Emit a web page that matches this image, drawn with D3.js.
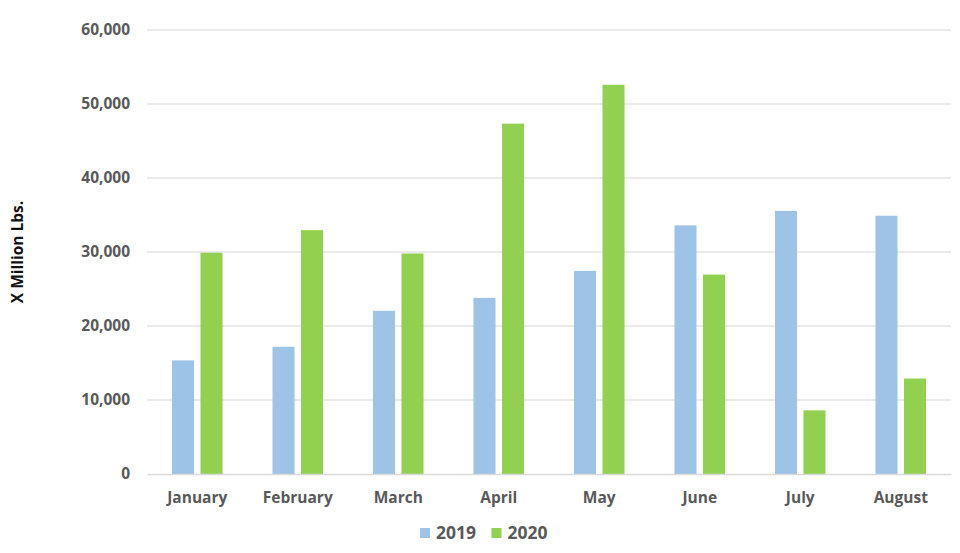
<!DOCTYPE html>
<html>
<head>
<meta charset="utf-8">
<script src="https://cdn.jsdelivr.net/npm/d3@7"></script>
<style>
  html, body { margin: 0; padding: 0; background: #fff; }
  svg { display: block; }
  text { font-family: "Open Sans", "DejaVu Sans", sans-serif; font-weight: 700; }
</style>
</head>
<body>
<svg id="chart" width="960" height="553"></svg>
<script>
const months = ["January", "February", "March", "April", "May", "June", "July", "August"];
const seriesNames = ["2019", "2020"];
const values2019 = [15350, 17200, 22050, 23800, 27450, 33600, 35550, 34900];
const values2020 = [29900, 32950, 29800, 47350, 52600, 26950, 8600, 12900];
const yTicks = [0, 10000, 20000, 30000, 40000, 50000, 60000];
const colors = ["#9dc3e6", "#92d050"];
const yTitle = "X Million Lbs.";

const svg = d3.select("#chart");
const margin = { left: 147, right: 9, top: 30, bottom: 79 };
const W = 960, H = 553;

const x0 = d3.scaleBand().domain(months).range([margin.left, W - margin.right]).padding(0);
const x1 = d3.scaleBand().domain(seriesNames).range([0, x0.bandwidth()])
  .paddingInner(0.228).paddingOuter(0.877);
const y = d3.scaleLinear().domain([0, 60000]).range([H - margin.bottom, margin.top]);

// gridlines
svg.append("g").selectAll("line").data(yTicks.filter(d => d > 0)).join("line")
  .attr("x1", margin.left).attr("x2", W - margin.right)
  .attr("y1", d => y(d)).attr("y2", d => y(d))
  .attr("stroke", "#e3e3e3").attr("stroke-width", 1.3);

// y axis labels
const yAxis = d3.axisLeft(y).tickValues(yTicks).tickFormat(d3.format(",")).tickSize(0).tickPadding(17);
const ga = svg.append("g").attr("transform", `translate(${margin.left},0)`).call(yAxis);
ga.select(".domain").remove();
ga.selectAll("text").attr("fill", "#595959").style("font-size", "15.5px");

// bars
const data = months.map((m, i) => ({ month: m, vals: [values2019[i], values2020[i]] }));
const groups = svg.append("g").selectAll("g").data(data).join("g")
  .attr("transform", d => `translate(${x0(d.month)},0)`);
groups.selectAll("rect").data(d => d.vals.map((v, j) => ({ key: seriesNames[j], v, j }))).join("rect")
  .attr("x", d => x1(d.key))
  .attr("width", x1.bandwidth())
  .attr("y", d => y(d.v))
  .attr("height", d => y(0) - y(d.v))
  .attr("fill", d => colors[d.j]);

// x axis baseline and labels
const xAxis = d3.axisBottom(x0).tickSize(0).tickPadding(18);
const gx = svg.append("g").attr("transform", `translate(0,${y(0)})`).call(xAxis);
gx.select(".domain").attr("stroke", "#d9d9d9").attr("stroke-width", 1.5);
gx.selectAll("text").attr("fill", "#595959").style("font-size", "15.5px");

// y title
svg.append("text")
  .attr("transform", `translate(23,${(y(0) + y(60000)) / 2}) rotate(-90)`)
  .attr("text-anchor", "middle")
  .attr("fill", "#111")
  .style("font-size", "15.5px")
  .text(yTitle);

// legend
const legendX = [420, 491.5];
const lg = svg.append("g").selectAll("g").data(seriesNames).join("g")
  .attr("transform", (d, i) => `translate(${legendX[i]},528)`);
lg.append("rect").attr("width", 10).attr("height", 10).attr("fill", (d, i) => colors[i]);
lg.append("text").attr("x", 16).attr("y", 5).attr("dy", "0.35em")
  .attr("fill", "#595959").style("font-size", "17.5px").text(d => d);
</script>
</body>
</html>
